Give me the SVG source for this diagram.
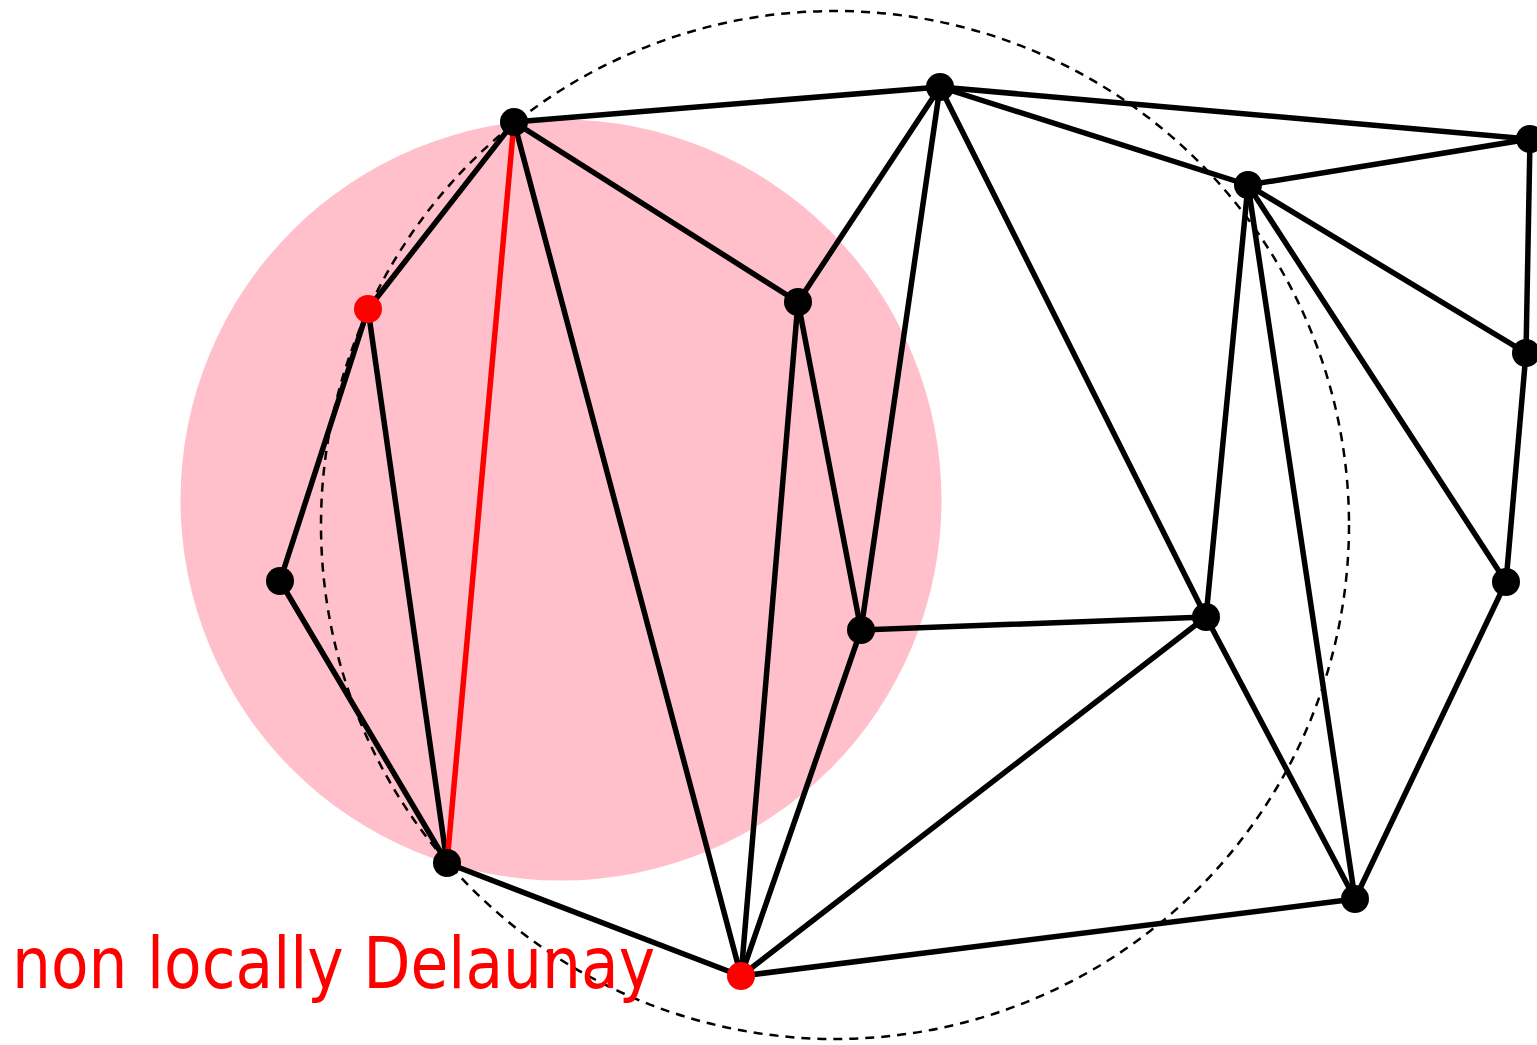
<svg xmlns="http://www.w3.org/2000/svg" width="1537" height="1045" viewBox="0 0 1537 1045">
<style>
.e{stroke:#000;stroke-width:5.5;stroke-linecap:round}
.r{stroke:#f00;stroke-width:5.5;stroke-linecap:round}
.n{fill:#000}
.nr{fill:#f00}
</style>
<rect width="1537" height="1045" fill="#fff"/>
<circle cx="561" cy="500" r="380.5" fill="#ffc0cb"/>
<circle cx="835" cy="525" r="514" fill="none" stroke="#000" stroke-width="2.5" stroke-dasharray="9,7"/>
<g id="connectors">
<line class="e" x1="514" y1="122" x2="940" y2="87"/>
<line class="e" x1="940" y1="87" x2="1530" y2="139"/>
<line class="e" x1="940" y1="87" x2="1248" y2="185"/>
<line class="e" x1="1248" y1="185" x2="1530" y2="139"/>
<line class="e" x1="514" y1="122" x2="368" y2="309"/>
<line class="e" x1="514" y1="122" x2="798" y2="302"/>
<line class="e" x1="514" y1="122" x2="741" y2="976"/>
<line class="e" x1="368" y1="309" x2="280" y2="581"/>
<line class="e" x1="368" y1="309" x2="447" y2="863"/>
<line class="e" x1="280" y1="581" x2="447" y2="863"/>
<line class="e" x1="447" y1="863" x2="741" y2="976"/>
<line class="e" x1="798" y1="302" x2="940" y2="87"/>
<line class="e" x1="798" y1="302" x2="861" y2="630"/>
<line class="e" x1="798" y1="302" x2="741" y2="976"/>
<line class="e" x1="940" y1="87" x2="861" y2="630"/>
<line class="e" x1="940" y1="87" x2="1206" y2="617"/>
<line class="e" x1="861" y1="630" x2="1206" y2="617"/>
<line class="e" x1="861" y1="630" x2="741" y2="976"/>
<line class="e" x1="1206" y1="617" x2="741" y2="976"/>
<line class="e" x1="1248" y1="185" x2="1206" y2="617"/>
<line class="e" x1="1248" y1="185" x2="1355" y2="899"/>
<line class="e" x1="1248" y1="185" x2="1506" y2="582"/>
<line class="e" x1="1248" y1="185" x2="1526" y2="353"/>
<line class="e" x1="1530" y1="139" x2="1526" y2="353"/>
<line class="e" x1="1526" y1="353" x2="1506" y2="582"/>
<line class="e" x1="1506" y1="582" x2="1355" y2="899"/>
<line class="e" x1="1206" y1="617" x2="1355" y2="899"/>
<line class="e" x1="741" y1="976" x2="1355" y2="899"/>
<line class="r" x1="514" y1="122" x2="447" y2="863"/>
</g>
<g id="nA"><circle class="n" cx="514" cy="122" r="14"/></g>
<g id="nB"><circle class="n" cx="940" cy="87" r="14"/></g>
<g id="nC"><circle class="n" cx="1530" cy="139" r="14"/></g>
<g id="nD"><circle class="n" cx="1248" cy="185" r="14"/></g>
<g id="nE"><circle class="nr" cx="368" cy="309" r="14"/></g>
<g id="nF"><circle class="n" cx="798" cy="302" r="14"/></g>
<g id="nG"><circle class="n" cx="1526" cy="353" r="14"/></g>
<g id="nH"><circle class="n" cx="280" cy="581" r="14"/></g>
<g id="nI"><circle class="n" cx="861" cy="630" r="14"/></g>
<g id="nJ"><circle class="n" cx="1206" cy="617" r="14"/></g>
<g id="nK"><circle class="n" cx="1506" cy="582" r="14"/></g>
<g id="nL"><circle class="n" cx="447" cy="863" r="14"/></g>
<g id="nM"><circle class="nr" cx="741" cy="976" r="14"/></g>
<g id="nN"><circle class="n" cx="1355" cy="899" r="14"/></g>
<g id="label"><text x="12" y="988" font-family="'DejaVu Sans', sans-serif" font-size="72" fill="#f00" textLength="643" lengthAdjust="spacingAndGlyphs">non locally Delaunay</text></g>
</svg>
